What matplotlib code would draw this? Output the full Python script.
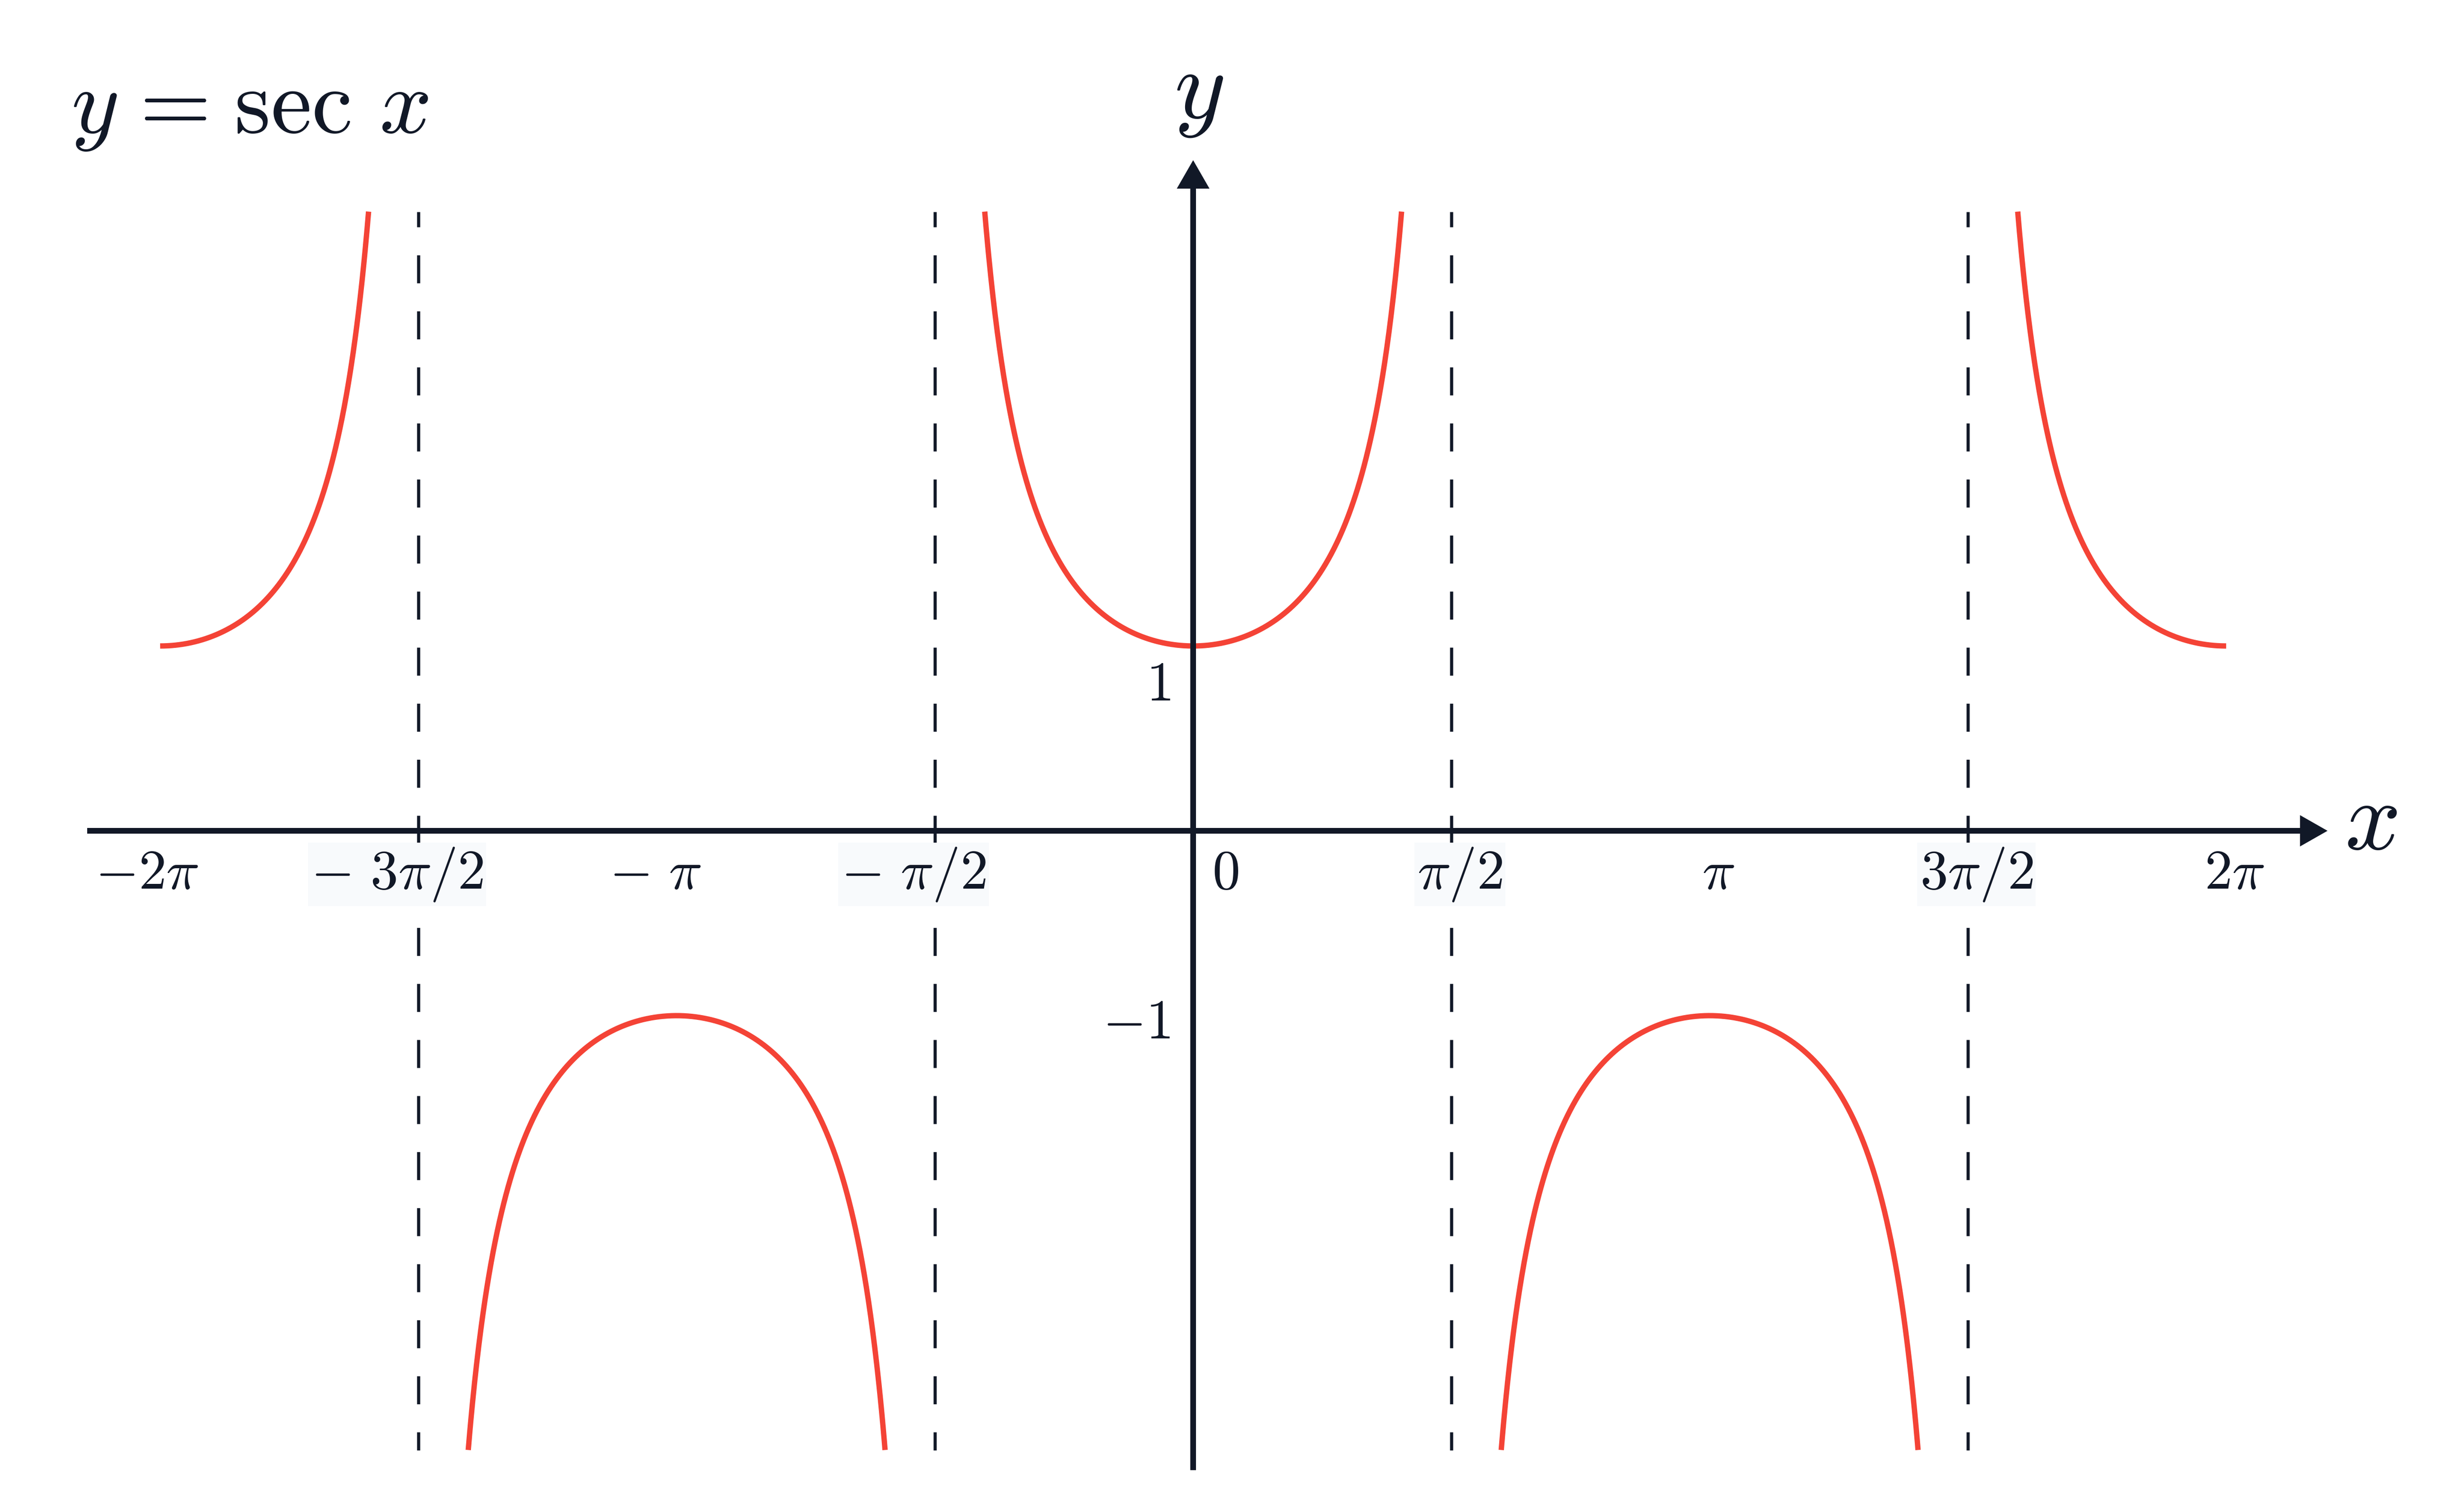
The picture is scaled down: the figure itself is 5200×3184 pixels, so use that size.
import numpy as np
import matplotlib.pyplot as plt

plt.rcParams['mathtext.fontset'] = 'cm'
plt.rcParams['lines.scale_dashes'] = False

# ---- chart content ----
x_start, x_end = -2 * np.pi, 2 * np.pi
asymptotes = [-3 * np.pi / 2, -np.pi / 2, np.pi / 2, 3 * np.pi / 2]
y_clip = 3.35  # curves and asymptote lines stop at |y| = 3.35

x_ticks = [-2 * np.pi, -3 * np.pi / 2, -np.pi, -np.pi / 2, 0,
           np.pi / 2, np.pi, 3 * np.pi / 2, 2 * np.pi]
x_tick_labels = [r'$-2\pi$', r'$-\ 3\pi/2$', r'$-\ \pi$', r'$-\ \pi/2$', r'$0$',
                 r'$\pi/2$', r'$\pi$', r'$3\pi/2$', r'$2\pi$']
y_ticks = [1, -1]
y_tick_labels = [r'$1$', r'$-1$']

title = r'$y\hspace{0.09}=\hspace{0.09}\mathrm{sec}\ x$'

# ---- look ----
INK = '#111827'
RED = '#f44336'
LABEL_BG = '#f8fafc'
TICK_FS = 26
AXIS_FS = 46
TITLE_FS = 43

# pixel layout of the 5200x3184 canvas
W, H, DPI = 5200, 3184, 325
ORIGIN_X, ORIGIN_Y = 2518, 1753          # where x=0, y=0 sit
PX_PER_X = 545 / (np.pi / 2)             # pi/2 is 545 px wide
PX_PER_Y = 390                           # one y unit is 390 px
PT = 72 / DPI                            # points per pixel


def px_x(px):
    return (px - ORIGIN_X) / PX_PER_X


def px_y(py):
    return (ORIGIN_Y - py) / PX_PER_Y


fig = plt.figure(figsize=(W / DPI, H / DPI), dpi=DPI, facecolor='white')
ax = fig.add_axes([0, 0, 1, 1])
ax.set_xlim(px_x(0), px_x(W))
ax.set_ylim(px_y(H), px_y(0))
ax.axis('off')

# sec x, one branch between each pair of asymptotes
edge_gap = np.arcsin(1 / y_clip)
edges = [x_start] + asymptotes + [x_end]
for a, b in zip(edges[:-1], edges[1:]):
    lo = a if a == x_start else a + edge_gap
    hi = b if b == x_end else b - edge_gap
    xs = np.linspace(lo, hi, 600)
    ax.plot(xs, 1 / np.cos(xs), color=RED, lw=2.5, solid_capstyle='butt', zorder=2)

# dashed asymptotes
for a in asymptotes:
    ax.plot([a, a], [y_clip, -y_clip], color=INK, lw=1.45,
            linestyle=(6.0, (13.1, 13.1)), zorder=1)

# axes with arrow heads
ax.arrow(px_x(184), 0, px_x(4912) - px_x(184), 0,
         width=12 / PX_PER_Y, head_width=66 / PX_PER_Y, head_length=58 / PX_PER_X,
         length_includes_head=True, fc=INK, ec='none', lw=0, zorder=4)
ax.arrow(0, px_y(3102), 0, px_y(338) - px_y(3102),
         width=12 / PX_PER_X, head_width=69 / PX_PER_X, head_length=60 / PX_PER_Y,
         length_includes_head=True, fc=INK, ec='none', lw=0, zorder=4)

ax.text(px_x(5004), px_y(1792), r'$x$', fontsize=AXIS_FS, color=INK,
        ha='center', va='baseline')
ax.text(px_x(2530), px_y(293), r'$y$', fontsize=AXIS_FS, color=INK,
        ha='center', va='bottom')

# x tick labels: the number part sits just right of its tick, a minus hangs to the left
renderer = fig.canvas.get_renderer()


def width_px(s, size):
    t = ax.text(0, 0, s, fontsize=size)
    w = t.get_window_extent(renderer).width
    t.remove()
    return w


for tick, label in zip(x_ticks, x_tick_labels):
    body = label.replace(r'-\ ', '').replace('-', '')
    body_w = width_px(body, TICK_FS)
    shift = 68 if tick == 0 else 18
    box = None
    if '/' in label:
        box = dict(boxstyle='square,pad=0.05', fc=LABEL_BG, ec='none')
    ax.annotate(label, xy=(tick, 0), xytext=((shift + body_w / 2) * PT, -122 * PT),
                textcoords='offset points', ha='right', va='baseline',
                fontsize=TICK_FS, color=INK, bbox=box, zorder=5)

# y tick labels, left of the axis
y_label_drop_px = [115, 48]
for tick, label, drop in zip(y_ticks, y_tick_labels, y_label_drop_px):
    ax.annotate(label, xy=(0, tick), xytext=(-48 * PT, -drop * PT),
                textcoords='offset points', ha='right', va='baseline',
                fontsize=TICK_FS, color=INK, zorder=5)

ax.text(px_x(150), px_y(280), title, fontsize=TITLE_FS, color=INK,
        ha='left', va='baseline')

fig.savefig('out.png', dpi=DPI, facecolor='white')
plt.close(fig)
